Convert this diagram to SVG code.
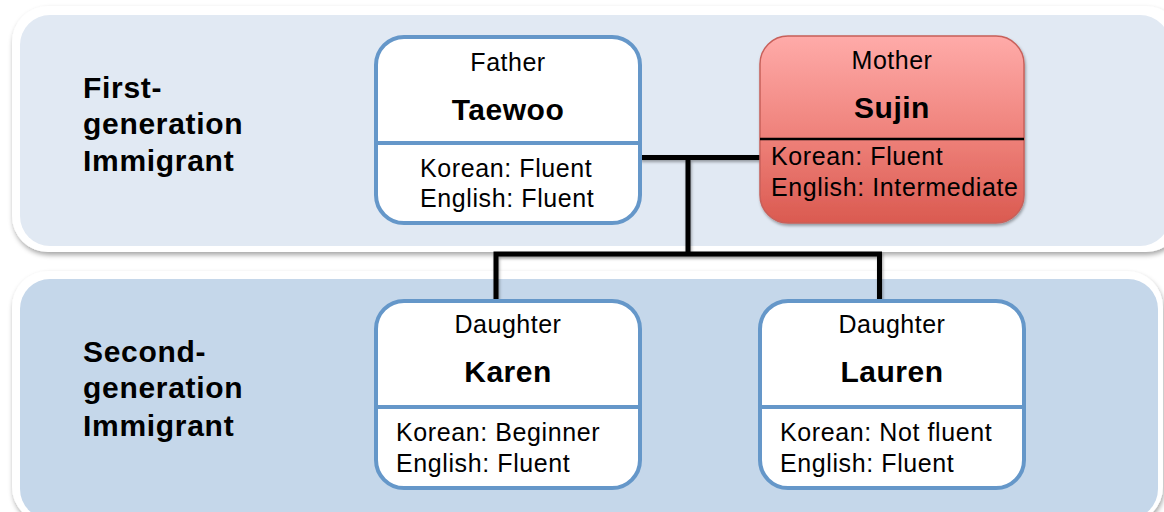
<svg xmlns="http://www.w3.org/2000/svg" width="1164" height="512" viewBox="0 0 1164 512">
  <defs>
    <filter id="panelShadow" x="-5%" y="-10%" width="110%" height="125%">
      <feDropShadow dx="1" dy="3" stdDeviation="2.5" flood-color="#000" flood-opacity="0.35"/>
    </filter>
    <filter id="lineShadow" x="-5%" y="-10%" width="110%" height="130%">
      <feDropShadow dx="1" dy="2" stdDeviation="1.5" flood-color="#000" flood-opacity="0.35"/>
    </filter>
    <linearGradient id="redGrad" x1="0" y1="0" x2="0" y2="1">
      <stop offset="0" stop-color="#FFABA9"/>
      <stop offset="0.55" stop-color="#EE8079"/>
      <stop offset="1" stop-color="#DA5A50"/>
    </linearGradient>
    <style>
      .label { font-family: "Liberation Sans", Arial, sans-serif; font-weight: bold; font-size: 30px; letter-spacing: 0.7px; fill: #000; }
      .role { font-family: "Liberation Sans", Arial, sans-serif; font-size: 25px; letter-spacing: 0.5px; fill: #000; text-anchor: middle; }
      .name { font-family: "Liberation Sans", Arial, sans-serif; font-weight: bold; font-size: 30px; letter-spacing: 0.5px; fill: #000; text-anchor: middle; }
      .info { font-family: "Liberation Sans", Arial, sans-serif; font-size: 25px; letter-spacing: 0.6px; fill: #000; }
      .box { fill: #FFFFFF; stroke: #6597C9; stroke-width: 4; }
      .div { stroke: #6597C9; stroke-width: 4; }
      .conn { fill: none; stroke: #000; stroke-width: 5; stroke-linejoin: miter; stroke-linecap: butt; }
    </style>
  </defs>

  <!-- Panels -->
  <g id="panel-first">
    <rect x="12" y="6" width="1170" height="246" rx="36" fill="#FFFFFF" filter="url(#panelShadow)"/>
    <rect x="20" y="15" width="1150" height="231" rx="30" fill="#E1E9F3"/>
    <text class="label" x="83" y="98">First-</text>
    <text class="label" x="83" y="134">generation</text>
    <text class="label" x="83" y="171">Immigrant</text>
  </g>
  <g id="panel-second">
    <rect x="12" y="271" width="1151" height="252" rx="36" fill="#FFFFFF" filter="url(#panelShadow)"/>
    <rect x="20" y="279" width="1138" height="240" rx="30" fill="#C5D7EA"/>
    <text class="label" x="83" y="362">Second-</text>
    <text class="label" x="83" y="398">generation</text>
    <text class="label" x="83" y="436">Immigrant</text>
  </g>

  <!-- Connectors -->
  <g id="connectors" filter="url(#lineShadow)">
    <path class="conn" d="M640 157.5 H760"/>
    <path class="conn" d="M688 157.5 V254"/>
    <path class="conn" d="M496 302 V254 H879.5 V302"/>
  </g>

  <!-- Father -->
  <g id="node-father">
    <rect class="box" x="376" y="37" width="264" height="186" rx="28"/>
    <line class="div" x1="376" y1="143" x2="640" y2="143"/>
    <text class="role" x="508" y="71">Father</text>
    <text class="name" x="508" y="120">Taewoo</text>
    <text class="info" x="420" y="177">Korean: Fluent</text>
    <text class="info" x="420" y="207">English: Fluent</text>
  </g>

  <!-- Mother -->
  <g id="node-mother">
    <rect x="760" y="36" width="264" height="187" rx="28" fill="url(#redGrad)" stroke="#C8605A" stroke-width="1.5" filter="url(#lineShadow)"/>
    <line x1="760" y1="139" x2="1024" y2="139" stroke="#000" stroke-width="2.5"/>
    <text class="role" x="892" y="69">Mother</text>
    <text class="name" x="892" y="118">Sujin</text>
    <text class="info" x="771" y="165">Korean: Fluent</text>
    <text class="info" x="771" y="196">English: Intermediate</text>
  </g>

  <!-- Karen -->
  <g id="node-karen">
    <rect class="box" x="376" y="301" width="264" height="187" rx="28"/>
    <line class="div" x1="376" y1="407" x2="640" y2="407"/>
    <text class="role" x="508" y="333">Daughter</text>
    <text class="name" x="508" y="382">Karen</text>
    <text class="info" x="396" y="441">Korean: Beginner</text>
    <text class="info" x="396" y="472">English: Fluent</text>
  </g>

  <!-- Lauren -->
  <g id="node-lauren">
    <rect class="box" x="760" y="301" width="264" height="187" rx="28"/>
    <line class="div" x1="760" y1="407" x2="1024" y2="407"/>
    <text class="role" x="892" y="333">Daughter</text>
    <text class="name" x="892" y="382">Lauren</text>
    <text class="info" x="780" y="441">Korean: Not fluent</text>
    <text class="info" x="780" y="472">English: Fluent</text>
  </g>
</svg>
